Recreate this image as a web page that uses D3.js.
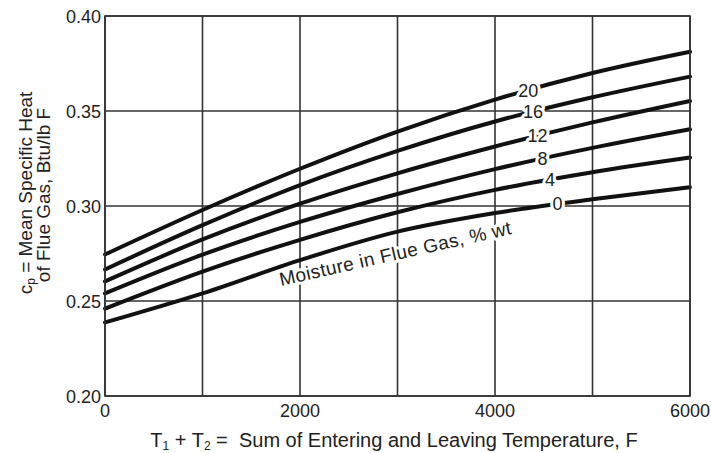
<!DOCTYPE html>
<html>
<head>
<meta charset="utf-8">
<script src="https://cdn.jsdelivr.net/npm/d3@7"></script>
<style>
  html, body { margin: 0; padding: 0; background: #fff; }
  svg { display: block; font-family: Arial, "Liberation Sans", Helvetica, sans-serif; }
  .grid line, .frame { stroke: #333; stroke-width: 1.6; fill: none; }
  .tick-label { font-size: 18px; fill: #222; }
  .curve { fill: none; stroke: #111; stroke-width: 4; stroke-linecap: round; }
  .curve-label, .note { fill: #222; paint-order: stroke; stroke: #fff; stroke-width: 6px; stroke-linejoin: round; }
  .curve-label { font-size: 18px; }
  .note { font-size: 19px; letter-spacing: 0.4px; }
  .title { font-size: 19px; fill: #222; white-space: pre; }
  .title.x { font-size: 20px; }
</style>
</head>
<body>
<svg id="chart" width="711" height="453"></svg>
<script>
'use strict';

// Sum of temperatures, F
const temps = [0, 1000, 2000, 3000, 4000, 5000, 6000];

// Moisture in flue gas, % wt
const moisture = [20, 16, 12, 8, 4, 0];

// Mean specific heat, Btu/lb F, one row per moisture level
const cp20 = [0.2745, 0.2979, 0.3196, 0.3392, 0.3560, 0.3700, 0.3812];
const cp16 = [0.2666, 0.2899, 0.3110, 0.3290, 0.3445, 0.3572, 0.3681];
const cp12 = [0.2603, 0.2824, 0.3012, 0.3172, 0.3313, 0.3440, 0.3553];
const cp8 = [0.2540, 0.2744, 0.2916, 0.3063, 0.3194, 0.3306, 0.3404];
const cp4 = [0.2460, 0.2655, 0.2822, 0.2967, 0.3085, 0.3178, 0.3255];
const cp0 = [0.2387, 0.2540, 0.2715, 0.2865, 0.2963, 0.3035, 0.3099];

// Where each curve is broken for its label, F
const labelAt = [4340, 4390, 4436, 4487, 4564, 4641];

const xTicks = [0, 1000, 2000, 3000, 4000, 5000, 6000];
const xTickLabels = [0, 2000, 4000, 6000];
const yTicks = [0.20, 0.25, 0.30, 0.35, 0.40];

const series = [cp20, cp16, cp12, cp8, cp4, cp0];

const svg = d3.select('#chart');

const x = d3.scaleLinear().domain([0, 6000]).range([105, 690]);
const y = d3.scaleLinear().domain([0.20, 0.40]).range([396, 16]);

// Grid
const grid = svg.append('g').attr('class', 'grid');

grid.selectAll('.vx')
  .data(xTicks)
  .enter()
  .append('line')
    .attr('x1', d => x(d))
    .attr('x2', d => x(d))
    .attr('y1', y.range()[0])
    .attr('y2', y.range()[1]);

grid.selectAll('.hy')
  .data(yTicks)
  .enter()
  .append('line')
    .attr('x1', x.range()[0])
    .attr('x2', x.range()[1])
    .attr('y1', d => y(d))
    .attr('y2', d => y(d));

// Tick labels
svg.append('g')
  .selectAll('text')
  .data(yTicks)
  .enter()
  .append('text')
    .attr('class', 'tick-label')
    .attr('x', x.range()[0] - 4)
    .attr('y', d => y(d) + 7)
    .attr('text-anchor', 'end')
    .text(d => d.toFixed(2));

svg.append('g')
  .selectAll('text')
  .data(xTickLabels)
  .enter()
  .append('text')
    .attr('class', 'tick-label')
    .attr('x', d => x(d))
    .attr('y', y.range()[0] + 21)
    .attr('text-anchor', 'middle')
    .text(d => d);

// Curves
const line = d3.line()
  .x((d, i) => x(temps[i]))
  .y(d => y(d))
  .curve(d3.curveMonotoneX);

svg.append('g')
  .selectAll('path')
  .data(series)
  .enter()
  .append('path')
    .attr('class', 'curve')
    .attr('d', d => line(d));

// value of a curve at temperature t, straight between data points
function valueAt (values, t) {
  const i = Math.min(d3.bisectRight(temps, t), temps.length - 1);
  const k = (t - temps[i - 1]) / (temps[i] - temps[i - 1]);
  return values[i - 1] + k * (values[i] - values[i - 1]);
}

svg.append('g')
  .selectAll('text')
  .data(moisture)
  .enter()
  .append('text')
    .attr('class', 'curve-label')
    .attr('x', (d, i) => x(labelAt[i]))
    .attr('y', (d, i) => y(valueAt(series[i], labelAt[i])) + 6)
    .attr('text-anchor', 'middle')
    .text(d => d);

// Note along the 0 % curve
svg.append('text')
  .attr('class', 'note')
  .attr('transform', 'translate(281,286) rotate(-12.7)')
  .text('Moisture in Flue Gas, % wt');

// Frame
svg.append('rect')
  .attr('class', 'frame')
  .attr('x', x.range()[0])
  .attr('y', y.range()[1])
  .attr('width', x.range()[1] - x.range()[0])
  .attr('height', y.range()[0] - y.range()[1]);

// Axis titles
const xTitle = svg.append('text')
  .attr('class', 'title x')
  .attr('x', 394)
  .attr('y', 447)
  .attr('text-anchor', 'middle');
xTitle.append('tspan').text('T');
xTitle.append('tspan').attr('font-size', 12).attr('dy', 3).text('1');
xTitle.append('tspan').attr('dy', -3).text(' + T');
xTitle.append('tspan').attr('font-size', 12).attr('dy', 3).text('2');
xTitle.append('tspan').attr('dy', -3).text(' =  Sum of Entering and Leaving Temperature, F');

const yTitle = svg.append('text')
  .attr('class', 'title')
  .attr('transform', 'translate(32,193) rotate(-90)')
  .attr('text-anchor', 'middle');
yTitle.append('tspan').text('c');
yTitle.append('tspan').attr('font-size', 12).attr('dy', 3).text('p');
yTitle.append('tspan').attr('dy', -3).text(' = Mean Specific Heat');

svg.append('text')
  .attr('class', 'title')
  .attr('transform', 'translate(50,195) rotate(-90)')
  .attr('text-anchor', 'middle')
  .text('of Flue Gas, Btu/lb F');
</script>
</body>
</html>
